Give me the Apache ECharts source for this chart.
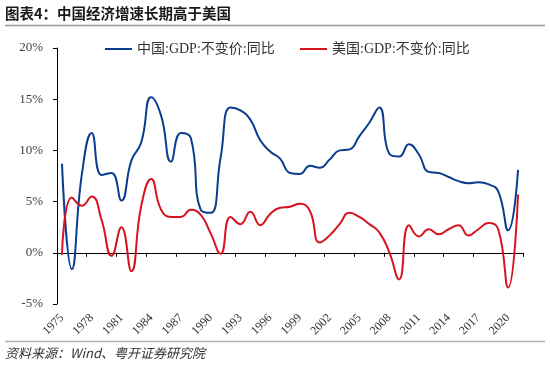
<!DOCTYPE html>
<html>
<head>
<meta charset="utf-8">
<script src="https://cdn.jsdelivr.net/npm/echarts@6/dist/echarts.min.js"></script>
<style>html,body{margin:0;padding:0;background:#fff;}#c{width:550px;height:373px;}</style>
</head>
<body>
<div id="c"></div>
<script>
const years = [];
for (let y = 1975; y <= 2021; y++) years.push(String(y));
const chinaGDP = [8.7, -1.6, 7.6, 11.7, 7.6, 7.8, 5.1, 9.0, 10.8, 15.2, 13.4, 8.9, 11.7, 11.2, 4.2, 3.9, 9.3, 14.2, 13.9, 13.0, 11.0, 9.9, 9.2, 7.8, 7.7, 8.5, 8.3, 9.1, 10.0, 10.1, 11.4, 12.7, 14.2, 9.7, 9.4, 10.6, 9.6, 7.9, 7.8, 7.4, 7.0, 6.8, 6.9, 6.7, 6.0, 2.2, 8.1];
const usGDP = [-0.2, 5.4, 4.6, 5.5, 3.2, -0.3, 2.5, -1.8, 4.6, 7.2, 4.2, 3.5, 3.5, 4.2, 3.7, 1.9, -0.1, 3.5, 2.8, 4.0, 2.7, 3.8, 4.4, 4.5, 4.8, 4.1, 1.0, 1.7, 2.8, 3.9, 3.5, 2.8, 2.0, 0.1, -2.6, 2.7, 1.6, 2.3, 1.8, 2.3, 2.7, 1.7, 2.3, 2.9, 2.3, -3.4, 5.7];
const seriesNames = ['中国:GDP:不变价:同比', '美国:GDP:不变价:同比'];
const titleText = '图表4：中国经济增速长期高于美国';
const sourceText = '资料来源：Wind、粤开证券研究院';

const serif = '"Liberation Serif", "Times New Roman", "Noto Sans CJK SC", serif';
const blue = '#0B3D8F';
const red = '#D51420';

const chart = echarts.init(document.getElementById('c'), null, {renderer: 'canvas'});
chart.setOption({
  animation: false,
  backgroundColor: '#fff',
  grid: {left: 57, right: 27, top: 48, bottom: 69, containLabel: false},
  legend: [
    {data: [seriesNames[0]], left: 100, top: 37, icon: 'rect', itemWidth: 27, itemHeight: 2, itemGap: 10,
     textStyle: {fontFamily: serif, fontSize: 14, color: '#333'}},
    {data: [seriesNames[1]], left: 295, top: 37, icon: 'rect', itemWidth: 27, itemHeight: 2, itemGap: 10,
     textStyle: {fontFamily: serif, fontSize: 14, color: '#333'}}
  ],
  graphic: [
    {type: 'text', left: 5, top: 6, style: {text: titleText, font: 'bold 14.5px "Noto Sans CJK SC", sans-serif', fill: '#1a1a1a'}},
    {type: 'line', shape: {x1: 5, y1: 25.5, x2: 545, y2: 25.5}, style: {stroke: '#9a9a9a', lineWidth: 1.5}},
    {type: 'line', shape: {x1: 5, y1: 341.5, x2: 545, y2: 341.5}, style: {stroke: '#b0b0b0', lineWidth: 1.5}},
    {type: 'text', left: 5, top: 347, style: {text: sourceText, font: 'italic 13px "Noto Sans CJK SC", sans-serif', fill: '#333'}}
  ],
  xAxis: [
    {type: 'category', data: years, boundaryGap: true, position: 'bottom',
     axisLine: {onZero: true, lineStyle: {color: '#000', width: 1}},
     axisTick: {show: true, interval: 2, length: 4, lineStyle: {color: '#000'}},
     axisLabel: {show: false}},
    {type: 'category', data: years, boundaryGap: true, position: 'bottom',
     axisLine: {show: false, onZero: false}, axisTick: {show: false},
     axisLabel: {interval: 2, rotate: 45, margin: 12, fontFamily: serif, fontSize: 12, color: '#333'}}
  ],
  yAxis: {
    type: 'value', min: -5, max: 20, interval: 5,
    axisLine: {show: true, lineStyle: {color: '#000', width: 1}},
    axisTick: {show: true, length: 4, lineStyle: {color: '#000'}},
    splitLine: {show: false},
    axisLabel: {formatter: '{value}%', margin: 14, fontFamily: serif, fontSize: 13, color: '#404040'}
  },
  series: [
    {name: seriesNames[0], type: 'line', data: chinaGDP, xAxisIndex: 0, smooth: 0.5, showSymbol: false,
     lineStyle: {color: blue, width: 2}, itemStyle: {color: blue}},
    {name: seriesNames[1], type: 'line', data: usGDP, xAxisIndex: 0, smooth: 0.5, showSymbol: false,
     lineStyle: {color: red, width: 2}, itemStyle: {color: red}}
  ]
});
</script>
</body>
</html>
